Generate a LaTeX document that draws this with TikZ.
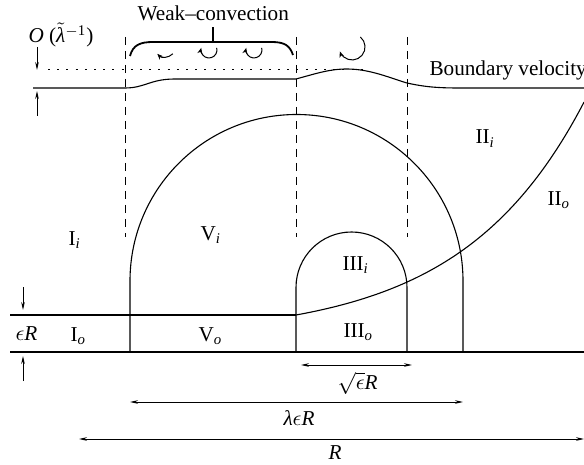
\documentclass[tikz,border=0pt]{standalone}
\usepackage{fontspec}
\setmainfont{Liberation Serif}
\usetikzlibrary{arrows.meta}
\newcommand{\lsub}[1]{\textsubscript{\itshape #1}}
\begin{document}
\begin{tikzpicture}[x=0.5pt,y=-0.5pt, line width=0.55pt,
  lbl/.style={anchor=base west, inner sep=0pt, font=\fontsize{10.6}{12}\selectfont},
  dashv/.style={dash pattern=on 4pt off 3pt, line width=0.5pt},
  dotl/.style={dash pattern=on 1pt off 3.6pt, line width=0.45pt},
  tipd/.style={-{Stealth[length=4pt,width=1.8pt]}, line width=0.5pt},
  dimarrow/.style={{Stealth[length=4pt,width=1.8pt]}-{Stealth[length=4pt,width=1.8pt]}, line width=0.5pt},
  swirl/.style={-{Stealth[length=3pt,width=2.4pt]}, line width=0.5pt},
  bracel/.style={line width=0.9pt},
  ]
\useasboundingbox (0,0) rectangle (584,465);

% ground lines
\draw (10,352) -- (584,352);
\draw (10,315) -- (296,315);

% outer curve (II_i / II_o boundary)
\draw plot[domain=296:584, samples=80, smooth] (\x, {315-22.2*(exp(0.0082*(\x-296))-1)});

% big semicircle V
\draw (130,352) -- (130,281) arc[start angle=180, end angle=360, radius=166.5] -- (463,352);
% small arch III
\draw (296,352) -- (296,287.5) arc[start angle=180, end angle=360, radius=55.5] -- (407,352);

% dashed verticals
\draw[dashv] (125,37) -- (125,237);
\draw[dashv] (296,37) -- (296,237);
\draw[dashv] (407,37) -- (407,237);

% dotted line
\draw[dotl] (48,69) -- (370,69);

% boundary velocity line
\draw (33,88) -- (125,88) .. controls (145,88) and (150,79) .. (175,79) -- (296,79)
  .. controls (318,73) and (330,69) .. (347,69)
  .. controls (370,69) and (390,78) .. (407,83)
  .. controls (425,87) and (438,88) .. (460,88) -- (584,88);

% brace
\draw[bracel] (130,56) .. controls (133,45) and (140,42) .. (153,42) -- (272,42)
  .. controls (285,42) and (290,46) .. (293,55);
\draw[bracel] (213,42) -- (213,27);

% swirls
\draw[swirl] (172.8,53.8) arc[start angle=45, end angle=135, radius=11];
\draw[swirl] (216.7,47.9) arc[start angle=-15, end angle=195, radius=8];
\draw[swirl] (261.7,47.9) arc[start angle=-15, end angle=195, radius=8];
\draw[swirl] (360.4,37.0) arc[start angle=-50, end angle=160, radius=13];

% small arrows
\coordinate (oa1) at (37,47); \coordinate (oa2) at (37,70);
\coordinate (ob1) at (37,116); \coordinate (ob2) at (37,91);
\coordinate (ea1) at (23,287); \coordinate (ea2) at (23,310);
\coordinate (eb1) at (23,381); \coordinate (eb2) at (23,356);
\draw[tipd] (oa1) -- (oa2);
\draw[tipd] (ob1) -- (ob2);
\draw[tipd] (ea1) -- (ea2);
\draw[tipd] (eb1) -- (eb2);

% dimension arrows
\coordinate (s1) at (301,365); \coordinate (s2) at (412,365);
\coordinate (l1) at (130,402); \coordinate (l2) at (463,402);
\coordinate (r1) at (79,439); \coordinate (r2) at (584,439);
\draw[dimarrow] (s1) -- (s2);
\draw[dimarrow] (l1) -- (l2);
\draw[dimarrow] (r1) -- (r2);

% labels
\node[lbl] (weak) at (137,21) {Weak–convection};
\node[lbl] (ord) at (28,43) {\textit{O} ($\tilde{\mbox{\itshape λ}}$\textsuperscript{$-$1})};
\node[lbl] (bv) at (429,75.5) {Boundary velocity};
\node[lbl] (IIi) at (475,144) {II\lsub{i}};
\node[lbl] (IIo) at (547,205.5) {II\lsub{o}};
\node[lbl] (Ii) at (68,245.5) {I\lsub{i}};
\node[lbl] (Vi) at (200,240.5) {V\lsub{i}};
\node[lbl] (IIIi) at (342,270.5) {III\lsub{i}};
\node[lbl] (eR) at (15,340.5) {$\epsilon$\textit{R}};
\node[lbl] (Io) at (70,341) {I\lsub{o}};
\node[lbl] (Vo) at (198,341) {V\lsub{o}};
\node[lbl] (IIIo) at (343,337) {III\lsub{o}};
\node[lbl] (sqR) at (337,389.5) {$\sqrt{\epsilon}$\textit{R}};
\node[lbl] (leR) at (283,425.5) {\textit{λ}$\epsilon$\textit{R}};
\node[lbl] (RR) at (328,459) {\textit{R}};
\end{tikzpicture}
\end{document}
